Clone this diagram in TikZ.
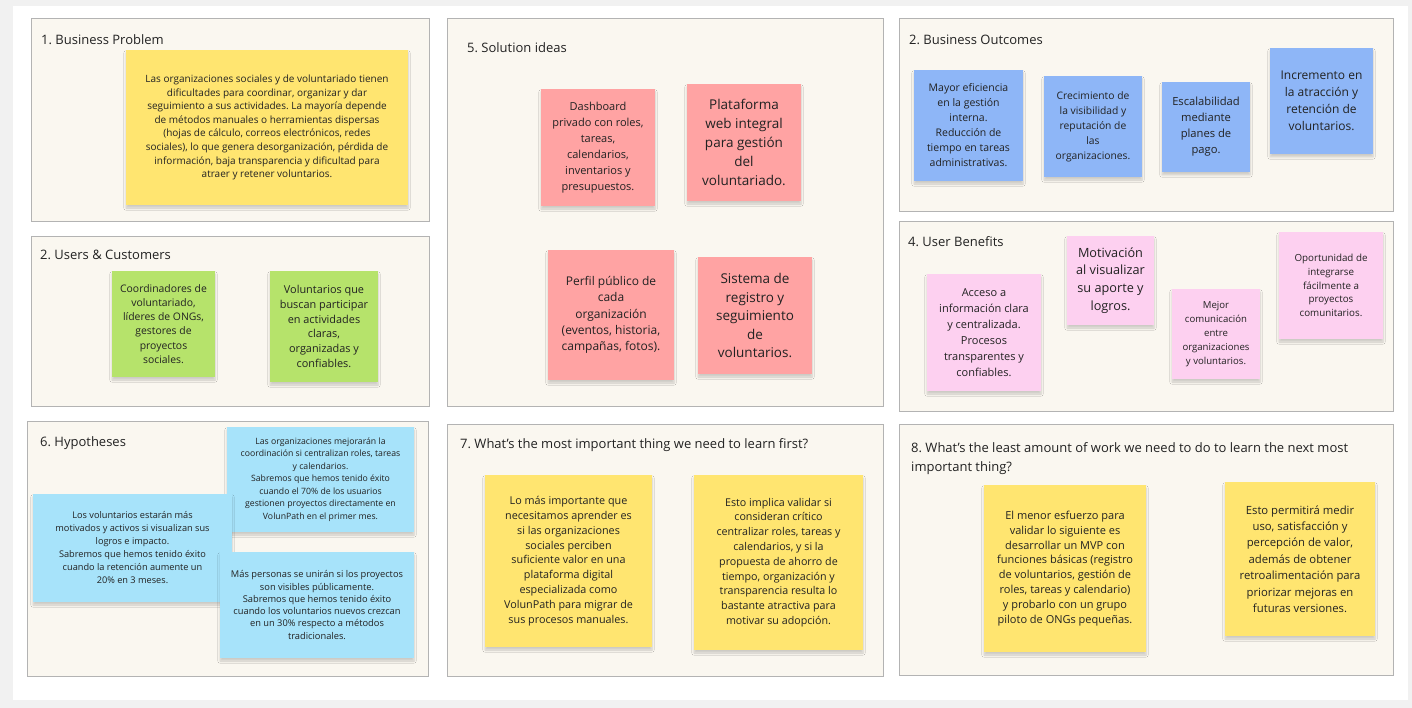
\documentclass[tikz,border=0pt]{standalone}
\usepackage{fontspec}
\setmainfont{Open Sans}
\usepackage{xcolor}
\usetikzlibrary{shadows.blur}
\frenchspacing

\definecolor{bggray}{HTML}{F1F1F1}
\definecolor{panelfill}{HTML}{FAF7F0}
\definecolor{panelline}{HTML}{B3B3B3}
\definecolor{inkgray}{HTML}{222222}
\definecolor{noteyellow}{HTML}{FFE570}
\definecolor{notegreen}{HTML}{B6E36B}
\definecolor{notered}{HTML}{FFA3A3}
\definecolor{noteblue}{HTML}{8EB6F7}
\definecolor{notepink}{HTML}{FDD0F0}
\definecolor{notecyan}{HTML}{A7E3FA}

\newcommand{\fsz}[2]{\fontsize{#1}{#2}\selectfont}

\tikzset{
  panel/.style={draw=panelline, fill=panelfill, line width=1pt},
  title/.style={anchor=west, inner sep=0pt, text=inkgray, font=\fsz{13}{19}},
  note/.style={inner sep=0pt, align=center, text=inkgray,
    blur shadow={shadow xshift=0pt, shadow yshift=-3pt, shadow opacity=18, shadow blur steps=6}},
}

\begin{document}
\begin{tikzpicture}[x=1pt,y=-1pt]
    \useasboundingbox (0,0) rectangle (1412,708);
    \fill[bggray] (0,0) rectangle (1412,708);
    \fill[white] (13,6) rectangle (1408,700);

    % panels
    \draw[panel] (31,19) rectangle (429,222);
    \draw[panel] (31,237) rectangle (429,406);
    \draw[panel] (27,421) rectangle (428,676);
    \draw[panel] (447,19) rectangle (883,406);
    \draw[panel] (447,424) rectangle (883,676);
    \draw[panel] (899,19) rectangle (1393,212);
    \draw[panel] (899,222) rectangle (1393,411);
    \draw[panel] (899,424) rectangle (1393,675);

    \node[title] (t1) at (41,40) {1. Business Problem};
    \node[title] (t2) at (40,255) {2. Users \& Customers};
    \node[title] (t6) at (40,443) {6. Hypotheses};
    \node[title] (t5) at (467,48) {5. Solution ideas};
    \node[title] (t7) at (460,445) {7. What's the most important thing we need to learn first?};
    \node[title] (to) at (909,40) {2. Business Outcomes};
    \node[title] (t4) at (908,242) {4. User Benefits};
    \node[title, anchor=north west, align=left] (t8) at (911,442)
      {8. What's the least amount of work we need to do to learn the next most\\important thing?};

    % yellow notes
    \begin{scope}[every node/.style={note, fill=noteyellow}]
      \node[minimum width=282, minimum height=155, font=\fsz{10}{13.6}] (bp) at (267,127.5)
        {Las organizaciones sociales y de voluntariado tienen\\dificultades para coordinar, organizar y dar\\seguimiento a sus actividades. La mayoría depende\\de métodos manuales o herramientas dispersas\\(hojas de cálculo, correos electrónicos, redes\\sociales), lo que genera desorganización, pérdida de\\información, baja transparencia y dificultad para\\atraer y retener voluntarios.};
      \node[minimum width=167, minimum height=172, font=\fsz{10.8}{14.8}] (q7a) at (568.5,561)
        {Lo más importante que\\necesitamos aprender es\\si las organizaciones\\sociales perciben\\suficiente valor en una\\plataforma digital\\especializada como\\VolunPath para migrar de\\sus procesos manuales.};
      \node[minimum width=169, minimum height=175, font=\fsz{10.7}{14.8}] (q7b) at (778.5,562.5)
        {Esto implica validar si\\consideran crítico\\centralizar roles, tareas y\\calendarios, y si la\\propuesta de ahorro de\\tiempo, organización y\\transparencia resulta lo\\bastante atractiva para\\motivar su adopción.};
      \node[minimum width=162, minimum height=167, font=\fsz{11}{14.8}] (q8a) at (1065,568.5)
        {El menor esfuerzo para\\validar lo siguiente es\\desarrollar un MVP con\\funciones básicas (registro\\de voluntarios, gestión de\\roles, tareas y calendario)\\y probarlo con un grupo\\piloto de ONGs pequeñas.};
      \node[minimum width=150, minimum height=154, font=\fsz{11.3}{16.4}] (q8b) at (1300,559)
        {Esto permitirá medir\\uso, satisfacción y\\percepción de valor,\\además de obtener\\retroalimentación para\\priorizar mejoras en\\futuras versiones.};
    \end{scope}

    % green notes
    \begin{scope}[every node/.style={note, fill=notegreen}]
      \node[minimum width=103, minimum height=106, font=\fsz{10.4}{14.2}] (g1) at (163.5,324)
        {Coordinadores de\\voluntariado,\\líderes de ONGs,\\gestores de\\proyectos\\sociales.};
      \node[minimum width=108, minimum height=111, font=\fsz{10.9}{14.7}] (g2) at (324,326.5)
        {Voluntarios que\\buscan participar\\en actividades\\claras,\\organizadas y\\confiables.};
    \end{scope}

    % red notes
    \begin{scope}[every node/.style={note, fill=notered}]
      \node[minimum width=114, minimum height=117, font=\fsz{11}{16}] (s1) at (598,147.5)
        {Dashboard\\privado con roles,\\tareas,\\calendarios,\\inventarios y\\presupuestos.};
      \node[minimum width=114, minimum height=117, font=\fsz{13.5}{19}] (s2) at (744,142.5)
        {Plataforma\\web integral\\para gestión\\del\\voluntariado.};
      \node[minimum width=126, minimum height=130, font=\fsz{12}{16.4}] (s3) at (611,315)
        {Perfil público de\\cada\\organización\\(eventos, historia,\\campañas, fotos).};
      \node[minimum width=114, minimum height=117, font=\fsz{13.5}{18.5}] (s4) at (755,315.5)
        {Sistema de\\registro y\\seguimiento\\de\\voluntarios.};
    \end{scope}

    % blue notes
    \begin{scope}[every node/.style={note, fill=noteblue}]
      \node[minimum width=109, minimum height=111, font=\fsz{10.5}{15}] (o1) at (968.5,125.5)
        {Mayor eficiencia\\en la gestión\\interna.\\Reducción de\\tiempo en tareas\\administrativas.};
      \node[minimum width=98, minimum height=101, font=\fsz{10.3}{15}] (o2) at (1093,126.5)
        {Crecimiento de\\la visibilidad y\\reputación de\\las\\organizaciones.};
      \node[minimum width=88, minimum height=90, font=\fsz{11.2}{16}] (o3) at (1206,127)
        {Escalabilidad\\mediante\\planes de\\pago.};
      \node[minimum width=103, minimum height=106, font=\fsz{12}{17.2}] (o4) at (1321.5,101)
        {Incremento en\\la atracción y\\retención de\\voluntarios.};
    \end{scope}

    % pink notes
    \begin{scope}[every node/.style={note, fill=notepink}]
      \node[minimum width=114, minimum height=117, font=\fsz{11}{16}] (b1) at (984,332.5)
        {Acceso a\\información clara\\y centralizada.\\Procesos\\transparentes y\\confiables.};
      \node[minimum width=87, minimum height=89, font=\fsz{12.7}{17.8}] (b2) at (1110.5,280.5)
        {Motivación\\al visualizar\\su aporte y\\logros.};
      \node[minimum width=88, minimum height=90, font=\fsz{9.6}{13.9}] (b3) at (1216,334)
        {Mejor\\comunicación\\entre\\organizaciones\\y voluntarios.};
      \node[minimum width=104, minimum height=107, font=\fsz{9.8}{13.8}] (b4) at (1331,285.5)
        {Oportunidad de\\integrarse\\fácilmente a\\proyectos\\comunitarios.};
    \end{scope}

    % cyan notes
    \begin{scope}[every node/.style={note, fill=notecyan}]
      \node[minimum width=187, minimum height=105, font=\fsz{8.7}{12.5}] (h1) at (320.5,479.5)
        {Las organizaciones mejorarán la\\coordinación si centralizan roles, tareas\\y calendarios.\\Sabremos que hemos tenido éxito\\cuando el 70\% de los usuarios\\gestionen proyectos directamente en\\VolunPath en el primer mes.};
      \node[minimum width=199, minimum height=108, font=\fsz{9.2}{13}] (h2) at (132.5,548)
        {Los voluntarios estarán más\\motivados y activos si visualizan sus\\logros e impacto.\\Sabremos que hemos tenido éxito\\cuando la retención aumente un\\20\% en 3 meses.};
      \node[minimum width=194, minimum height=106, font=\fsz{9.3}{12.3}] (h3) at (317,605)
        {Más personas se unirán si los proyectos\\son visibles públicamente.\\Sabremos que hemos tenido éxito\\cuando los voluntarios nuevos crezcan\\en un 30\% respecto a métodos\\tradicionales.};
    \end{scope}
\end{tikzpicture}
\end{document}
